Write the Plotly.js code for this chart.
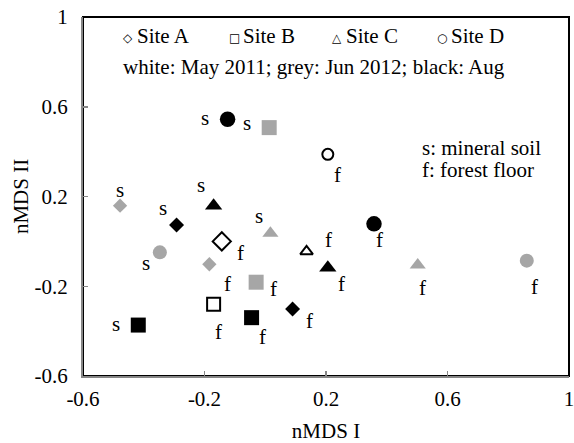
<!DOCTYPE html>
<html>
<head>
<meta charset="utf-8">
<script src="https://cdn.plot.ly/plotly-3.0.1.min.js"></script>
<style>
  html, body { margin: 0; padding: 0; background: #fff; }
  #chart { width: 574px; height: 443px; }
</style>
</head>
<body>
<div id="chart"></div>
<script>
// nMDS ordination of the samples: four sites, three samplings, two layers
const sites    = ['A','A','A','A','A', 'B','B','B','B','B', 'C','C','C','C','C', 'D','D','D','D','D'];
const sampling = ['May','Jun','Jun','Aug','Aug', 'May','Jun','Jun','Aug','Aug',
                  'May','Jun','Jun','Aug','Aug', 'May','Jun','Jun','Aug','Aug'];
const layerCode = ['f','s','f','s','f', 'f','s','f','s','f', 'f','s','f','s','f', 'f','s','f','s','f'];
const nmdsI  = [-0.143, -0.478, -0.184, -0.292,  0.090,
                -0.170,  0.013, -0.030, -0.418, -0.045,
                 0.136,  0.017,  0.502, -0.170,  0.206,
                 0.206, -0.347,  0.861, -0.124,  0.358];
const nmdsII = [ 0.000,  0.159, -0.102,  0.073, -0.301,
                -0.280,  0.507, -0.182, -0.373, -0.340,
                -0.045,  0.036, -0.105,  0.159, -0.117,
                 0.388, -0.049, -0.086,  0.544,  0.078];

const siteNames     = ['A', 'B', 'C', 'D'];
const samplingNames = ['May', 'Jun', 'Aug'];
const xTickVals = [-0.6, -0.2, 0.2, 0.6, 1];
const xTickText = ['-0.6', '-0.2', '0.2', '0.6', '1'];
const yTickVals = [-0.6, -0.2, 0.2, 0.6, 1];
const yTickText = ['-0.6', '-0.2', '0.2', '0.6', '1'];

// ---- styling ----
const SERIF = '"Liberation Serif", "Times New Roman", Times, serif';
const GREY = '#a6a6a6';
const AXIS_GREY = '#868686';
const symbolOf = { A: 'diamond', B: 'square', C: 'triangle-up', D: 'circle' };
const fillOf   = { May: '#ffffff', Jun: GREY, Aug: '#000000' };
const lineOf   = { May: { color: '#000', width: 2 }, Jun: { color: GREY, width: 0 }, Aug: { color: '#000', width: 0 } };
const sizeOf = {
  A: { May: 14, Jun: 11, Aug: 11.5 },
  B: { May: 13, Jun: 15, Aug: 15 },
  C: { May: 11, Jun: 14, Aug: 15 },
  D: { May: 11, Jun: 14, Aug: 15.5 }
};
// pixel offset of each s/f tag from its marker (dx right, dy down)
const tagOffset = [
  [19, 12], [0, -16], [18, 20], [-14, -17], [17, 12],
  [5, 28], [-22, -5], [17, 7], [-22, -1], [11, 19],
  [22, -11], [-11, -17], [5, 23], [-13, -21], [14, 16],
  [10, 21], [-14, 11], [8, 26], [-23, -1], [6, 16]
];

// plot-area geometry in pixels
const W = 574, H = 443;
const M = { l: 83, r: 5, t: 17, b: 67 };
const PW = W - M.l - M.r, PH = H - M.t - M.b;
const px = x => (x - M.l) / PW;
const py = y => (H - M.b - y) / PH;

// one trace per site and sampling
const traces = [];
siteNames.forEach(s => {
  samplingNames.forEach(m => {
    const idx = sites.map((v, i) => i).filter(i => sites[i] === s && sampling[i] === m);
    if (!idx.length) return;
    traces.push({
      type: 'scatter',
      mode: 'markers',
      name: 'Site ' + s + ' ' + m,
      x: idx.map(i => nmdsI[i]),
      y: idx.map(i => nmdsII[i]),
      marker: {
        symbol: symbolOf[s],
        size: sizeOf[s][m],
        color: fillOf[m],
        line: lineOf[m]
      },
      hoverinfo: 'x+y+name'
    });
  });
});

// s / f tags next to each sample
const annotations = nmdsI.map((x, i) => ({
  xref: 'x', yref: 'y', x: x, y: nmdsII[i],
  text: layerCode[i], showarrow: false,
  xanchor: 'center', yanchor: 'middle',
  xshift: tagOffset[i][0], yshift: -tagOffset[i][1],
  font: { family: SERIF, size: 21, color: '#000' }
}));

// key: site symbols
const keyGlyph = { A: '\u25C7', B: '\u25A1', C: '\u25B3', D: '\u25CB' };
const keyX = [128, 234, 337, 442];
siteNames.forEach((s, k) => {
  annotations.push({
    xref: 'paper', yref: 'paper', x: px(keyX[k]), y: py(38),
    text: '<b>' + keyGlyph[s] + '</b>', showarrow: false,
    xanchor: 'center', yanchor: 'middle',
    font: { family: '"DejaVu Sans", sans-serif', size: 12, color: '#000' }
  });
  annotations.push({
    xref: 'paper', yref: 'paper', x: px(keyX[k] + 8), y: py(36),
    text: 'Site ' + s, showarrow: false,
    xanchor: 'left', yanchor: 'middle', borderpad: 0,
    font: { family: SERIF, size: 21, color: '#000' }
  });
});

const notes = [
  { text: 'white: May 2011; grey: Jun 2012; black: Aug', x: 122, y: 67 },
  { text: 's: mineral soil', x: 421, y: 148 },
  { text: 'f: forest floor', x: 421, y: 170 }
];
notes.forEach(n => annotations.push({
  xref: 'paper', yref: 'paper', x: px(n.x), y: py(n.y),
  text: n.text, showarrow: false, xanchor: 'left', yanchor: 'middle', borderpad: 0,
  font: { family: SERIF, size: 21, color: '#000' }
}));

const axisCommon = {
  ticks: 'inside', ticklen: 5, tickwidth: 1.5, tickcolor: AXIS_GREY,
  showline: true, linecolor: AXIS_GREY, linewidth: 2,
  showgrid: false, zeroline: false, fixedrange: true,
  ticklabeloverflow: 'allow',
  tickfont: { family: SERIF, size: 21, color: '#000' }
};

const layout = {
  width: W, height: H,
  margin: M,
  paper_bgcolor: '#ffffff', plot_bgcolor: 'rgba(0,0,0,0)',
  font: { family: SERIF, size: 21, color: '#000' },
  showlegend: false,
  hovermode: 'closest',
  xaxis: Object.assign({}, axisCommon, {
    range: [-0.6, 1], tickmode: 'array', tickvals: xTickVals, ticktext: xTickText,
    ticklabelstandoff: 3,
    title: { text: 'nMDS I', standoff: 15, font: { family: SERIF, size: 21, color: '#000' } }
  }),
  yaxis: Object.assign({}, axisCommon, {
    range: [-0.6, 1], tickmode: 'array', tickvals: yTickVals, ticktext: yTickText,
    ticklabelstandoff: 9,
    title: { text: 'nMDS II', standoff: 0, font: { family: SERIF, size: 21, color: '#000' } }
  }),
  shapes: [{
    type: 'rect', xref: 'paper', yref: 'paper', x0: 0, x1: 1, y0: 0, y1: 1,
    line: { color: '#000', width: 2 }, layer: 'below'
  }],
  annotations: annotations
};

Plotly.newPlot('chart', traces, layout, { displayModeBar: false, staticPlot: true });
</script>
</body>
</html>
